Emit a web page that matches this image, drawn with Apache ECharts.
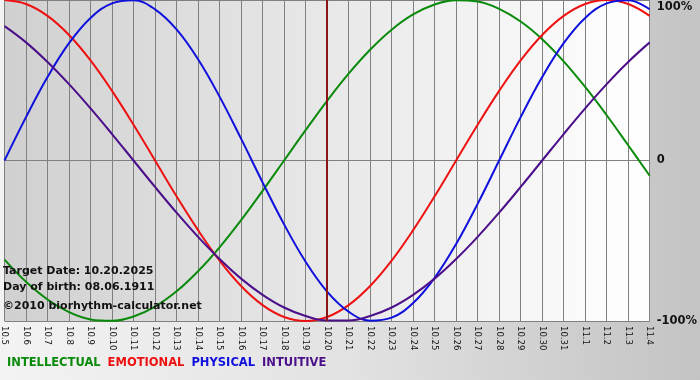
<!DOCTYPE html>
<html>
<head>
<meta charset="utf-8">
<script src="https://cdn.jsdelivr.net/npm/echarts@6/dist/echarts.min.js"></script>
<style>html,body{margin:0;padding:0;}#c{width:700px;height:380px;}</style>
</head>
<body>
<div id="c"></div>
<script>
var dates = ['10.5','10.6','10.7','10.8','10.9','10.10','10.11','10.12','10.13','10.14','10.15','10.16','10.17','10.18','10.19','10.20','10.21','10.22','10.23','10.24','10.25','10.26','10.27','10.28','10.29','10.30','10.31','11.1','11.2','11.3','11.4'];
var intellectual = [-61.8,-75.6,-86.6,-94.5,-99.0,-99.9,-97.2,-91.0,-81.5,-69.0,-54.1,-37.2,-18.9,0,18.9,37.2,54.1,69.0,81.5,91.0,97.2,99.9,99.0,94.5,86.6,75.6,61.8,45.8,28.2,9.5,-9.5];
var emotional = [100,97.5,90.1,78.2,62.4,43.4,22.3,0,-22.3,-43.4,-62.4,-78.2,-90.1,-97.5,-100,-97.5,-90.1,-78.2,-62.4,-43.4,-22.3,0,22.3,43.4,62.4,78.2,90.1,97.5,100,97.5,90.1];
var physical = [0,27.0,52.0,73.1,88.8,97.9,99.8,94.2,81.7,63.1,39.8,13.6,-13.6,-39.8,-63.1,-81.7,-94.2,-99.8,-97.9,-88.8,-73.1,-52.0,-27.0,0,27.0,52.0,73.1,88.8,97.9,99.8,94.2];
var intuitive = [83.7,73.6,61.4,47.6,32.5,16.5,0,-16.5,-32.5,-47.6,-61.4,-73.6,-83.7,-91.6,-96.9,-99.7,-99.7,-96.9,-91.6,-83.7,-73.6,-61.4,-47.6,-32.5,-16.5,0,16.5,32.5,47.6,61.4,73.6];
var seriesNames = ['INTELLECTUAL','EMOTIONAL','PHYSICAL','INTUITIVE'];
var seriesColors = ['#0a8a0a','#ee1111','#1010dd','#4b0f8a'];
var targetDate = '10.20';
var infoLines = ['Target Date: 10.20.2025','Day of birth: 08.06.1911','\u00a92010 biorhythm-calculator.net'];
var yTicks = {'100':'100%','0':'0','-100':'-100%'};

var FONT = 'DejaVu Sans';
var chart = echarts.init(document.getElementById('c'), null, {renderer:'canvas'});
var dataSets = [intellectual, emotional, physical, intuitive];
var series = dataSets.map(function(d, k){
  var s = {
    name: seriesNames[k], type:'line', data:d, smooth:0.4, symbol:'none',
    lineStyle:{color:seriesColors[k], width:2}, itemStyle:{color:seriesColors[k]}, z:3
  };
  if (k === 0) {
    s.markLine = {silent:true, symbol:'none', label:{show:false},
      lineStyle:{color:'#8a1515', width:2, type:'solid'},
      data:[{xAxis:targetDate}]};
  }
  return s;
});
chart.setOption({
  animation:false,
  backgroundColor:{type:'linear',x:0,y:0,x2:1,y2:0,colorStops:[
    {offset:0,color:'#f3f3f3'},{offset:0.5,color:'#e2e2e2'},{offset:0.9,color:'#c9c9c9'},{offset:1,color:'#c4c4c4'}]},
  grid:{left:0, right:49, top:0, bottom:59, show:true, borderWidth:0,
    backgroundColor:{type:'linear',x:0,y:0,x2:1,y2:0,colorStops:[
      {offset:0,color:'#d0d0d0'},{offset:0.5,color:'#e8e8e8'},{offset:1,color:'#ffffff'}]}},
  legend:{left:-3, top:351, icon:'none', itemWidth:0, itemGap:2,
    textStyle:{fontFamily:FONT, fontWeight:'bold', fontSize:11.5},
    data: seriesNames.map(function(n,k){return {name:n, textStyle:{color:seriesColors[k]}};})},
  xAxis:{type:'category', data:dates, boundaryGap:false,
    axisLine:{lineStyle:{color:'#808080'}},
    axisTick:{show:true, length:4, lineStyle:{color:'#808080'}},
    splitLine:{show:true, lineStyle:{color:'#808080', width:1}},
    axisLabel:{rotate:-90, interval:0, margin:5, color:'#111', fontFamily:FONT, fontSize:8.5}},
  yAxis:{type:'value', position:'right', min:-100, max:100, interval:100,
    axisLine:{show:true, lineStyle:{color:'#808080'}}, axisTick:{show:false},
    splitLine:{show:true, lineStyle:{color:'#808080', width:1}},
    axisLabel:{margin:7, color:'#111', fontFamily:FONT, fontWeight:'bold', fontSize:11.5,
      formatter:function(v){ var t = yTicks[String(v)]; return v===100 ? '{top|'+t+'}' : t; },
      rich:{top:{fontFamily:FONT, fontWeight:'bold', fontSize:11.5, color:'#111', padding:[14,0,0,0]}}}},
  graphic: infoLines.map(function(t,i){
    return {type:'text', left:3, top:[266,282,301][i], z:10,
      style:{text:t, fill:'#111', font:'bold 11px "'+FONT+'"'}};
  }),
  series: series
});
</script>
</body>
</html>
